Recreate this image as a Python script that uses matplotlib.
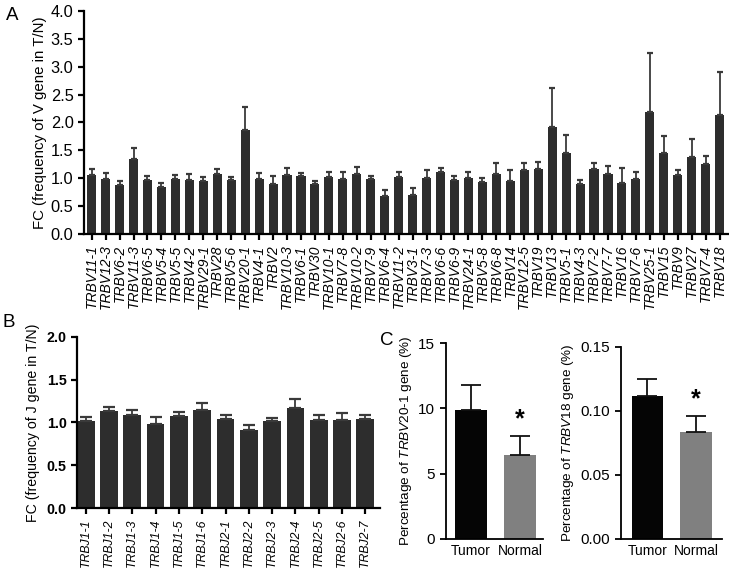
import numpy as np
import matplotlib
matplotlib.use('Agg')
import matplotlib.pyplot as plt

plt.rcParams['font.family'] = ['Liberation Sans', 'DejaVu Sans']
plt.rcParams['mathtext.fontset'] = 'custom'
plt.rcParams['mathtext.rm'] = 'Liberation Sans'
plt.rcParams['mathtext.it'] = 'Liberation Sans:italic'

# panel A: V genes, fold change (tumor / normal), upper SEM
v_genes = ['TRBV11-1', 'TRBV12-3', 'TRBV6-2', 'TRBV11-3', 'TRBV6-5', 'TRBV5-4', 'TRBV5-5',
           'TRBV4-2', 'TRBV29-1', 'TRBV28', 'TRBV5-6', 'TRBV20-1', 'TRBV4-1', 'TRBV2',
           'TRBV10-3', 'TRBV6-1', 'TRBV30', 'TRBV10-1', 'TRBV7-8', 'TRBV10-2', 'TRBV7-9',
           'TRBV6-4', 'TRBV11-2', 'TRBV3-1', 'TRBV7-3', 'TRBV6-6', 'TRBV6-9', 'TRBV24-1',
           'TRBV5-8', 'TRBV6-8', 'TRBV14', 'TRBV12-5', 'TRBV19', 'TRBV13', 'TRBV5-1',
           'TRBV4-3', 'TRBV7-2', 'TRBV7-7', 'TRBV16', 'TRBV7-6', 'TRBV25-1', 'TRBV15',
           'TRBV9', 'TRBV27', 'TRBV7-4', 'TRBV18']
v_fc = [1.05, 0.99, 0.87, 1.34, 0.96, 0.85, 0.98, 0.96, 0.95, 1.07, 0.96, 1.87, 0.98, 0.90,
        1.05, 1.04, 0.89, 1.02, 0.99, 1.07, 0.98, 0.69, 1.02, 0.70, 1.01, 1.12, 0.97, 1.01,
        0.93, 1.08, 0.95, 1.14, 1.16, 1.92, 1.45, 0.89, 1.16, 1.07, 0.92, 0.98, 2.19, 1.46,
        1.05, 1.38, 1.25, 2.13]
v_err = [0.12, 0.10, 0.08, 0.21, 0.08, 0.07, 0.07, 0.11, 0.07, 0.09, 0.06, 0.40, 0.12, 0.14,
         0.13, 0.06, 0.06, 0.10, 0.12, 0.13, 0.06, 0.09, 0.09, 0.12, 0.13, 0.07, 0.07, 0.10,
         0.08, 0.19, 0.19, 0.14, 0.14, 0.70, 0.33, 0.08, 0.12, 0.15, 0.26, 0.13, 1.06, 0.30,
         0.09, 0.32, 0.14, 0.77]

# panel B: J genes
j_genes = ['TRBJ1-1', 'TRBJ1-2', 'TRBJ1-3', 'TRBJ1-4', 'TRBJ1-5', 'TRBJ1-6', 'TRBJ2-1',
           'TRBJ2-2', 'TRBJ2-3', 'TRBJ2-4', 'TRBJ2-5', 'TRBJ2-6', 'TRBJ2-7']
j_fc = [1.01, 1.13, 1.08, 0.98, 1.07, 1.14, 1.04, 0.91, 1.01, 1.17, 1.03, 1.03, 1.04]
j_err = [0.05, 0.05, 0.06, 0.08, 0.05, 0.09, 0.05, 0.06, 0.04, 0.10, 0.06, 0.08, 0.05]

# panel C: percentages, tumor vs normal
groups = ['Tumor', 'Normal']
trbv20_pct = [9.88, 6.40]
trbv20_err = [1.92, 1.48]
trbv18_pct = [0.1117, 0.0831]
trbv18_err = [0.0128, 0.0127]

bar_dark = '#2d2d2d'

fig = plt.figure(figsize=(7.29, 5.69), dpi=100)


def style_axes(ax, lw=1.6):
    for s in ['top', 'right']:
        ax.spines[s].set_visible(False)
    for s in ['left', 'bottom']:
        ax.spines[s].set_linewidth(lw)
    ax.tick_params(width=lw, length=4)


# ---- A
axA = fig.add_axes([0.1152, 0.5888, 0.8834, 0.3919])
xa = np.arange(len(v_genes))
axA.bar(xa, v_fc, width=0.65, color=bar_dark)
axA.errorbar(xa, v_fc, yerr=[np.zeros(len(v_fc)), v_err], fmt='none', ecolor='#3a3a3a',
             elinewidth=1.3, capsize=2.4, capthick=1.6)
axA.set_xlim(-0.55, 45.6)
axA.set_ylim(0, 4)
axA.set_yticks(np.arange(0, 4.01, 0.5))
axA.set_yticklabels([f'{v:.1f}' for v in np.arange(0, 4.01, 0.5)], fontsize=11.8)
axA.set_xticks(xa)
axA.set_xticklabels(v_genes, rotation=90, fontstyle='italic', fontsize=10)
axA.set_ylabel('FC (frequency of V gene in T/N)', fontsize=10.8, labelpad=3)
style_axes(axA)
fig.text(0.008, 0.987, 'A', fontsize=13.5, va='top')

# ---- B
axB = fig.add_axes([0.106, 0.1072, 0.4153, 0.3011])
xb = np.arange(len(j_genes))
axB.bar(xb, j_fc, width=0.76, color=bar_dark)
axB.errorbar(xb, j_fc, yerr=[np.zeros(len(j_fc)), j_err], fmt='none', ecolor='#3a3a3a',
             elinewidth=1.3, capsize=4.5, capthick=1.6)
axB.set_xlim(-0.36, 12.63)
axB.set_ylim(0, 2)
axB.set_yticks([0, 0.5, 1.0, 1.5, 2.0])
axB.set_yticklabels(['0.0', '0.5', '1.0', '1.5', '2.0'], fontsize=10.3, fontweight='bold')
axB.set_xticks(xb)
axB.set_xticklabels(j_genes, rotation=90, fontstyle='italic', fontsize=8.8)
axB.set_ylabel('FC (frequency of J gene in T/N)', fontsize=10.2, labelpad=5)
style_axes(axB)
fig.text(0.004, 0.449, 'B', fontsize=13.5, va='top')

# ---- C
fig.text(0.521, 0.417, 'C', fontsize=13.5, va='top')
c_colors = ['#050505', '#808080']
xc = np.arange(len(groups))

axC1 = fig.add_axes([0.6114, 0.0533, 0.1335, 0.3433])
axC1.bar(xc, trbv20_pct, width=0.65, color=c_colors)
axC1.errorbar(xc, trbv20_pct, yerr=[[0, 0], trbv20_err], fmt='none', ecolor='#111111',
              elinewidth=1.3, capsize=7, capthick=1.3)
axC1.set_xlim(-0.52, 1.47)
axC1.set_ylim(0, 15)
axC1.set_yticks([0, 5, 10, 15])
axC1.tick_params(axis='y', labelsize=11)
axC1.set_xticks(xc)
axC1.set_xticklabels(groups, fontsize=10)
axC1.set_ylabel(r'Percentage of $\mathit{TRBV20}$-$\mathit{1}$ gene (%)', fontsize=9.7, labelpad=3)
axC1.text(1, trbv20_pct[1] + trbv20_err[1] + 0.4, '*', ha='center', va='bottom',
          fontsize=18, fontweight='bold')
style_axes(axC1, 1.3)
axC1.tick_params(axis='x', length=0)

axC2 = fig.add_axes([0.8514, 0.0533, 0.1385, 0.3374])
axC2.bar(xc, trbv18_pct, width=0.65, color=c_colors)
axC2.errorbar(xc, trbv18_pct, yerr=[[0, 0], trbv18_err], fmt='none', ecolor='#111111',
              elinewidth=1.3, capsize=7, capthick=1.3)
axC2.set_xlim(-0.55, 1.53)
axC2.set_ylim(0, 0.15)
axC2.set_yticks([0, 0.05, 0.10, 0.15])
axC2.set_yticklabels(['0.00', '0.05', '0.10', '0.15'], fontsize=11)
axC2.set_xticks(xc)
axC2.set_xticklabels(groups, fontsize=10)
axC2.set_ylabel(r'Percentage of $\mathit{TRBV18}$ gene (%)', fontsize=9.7, labelpad=3)
axC2.text(1, trbv18_pct[1] + trbv18_err[1] + 0.004, '*', ha='center', va='bottom',
          fontsize=18, fontweight='bold')
style_axes(axC2, 1.3)
axC2.tick_params(axis='x', length=0)

fig.savefig('out.png', dpi=100)
